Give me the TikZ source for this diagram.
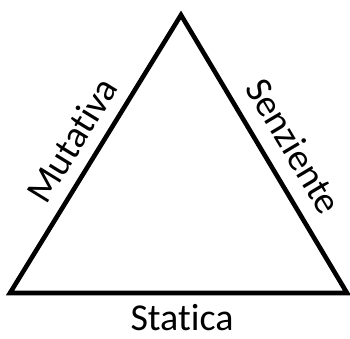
\documentclass[tikz,border=0pt]{standalone}
\usepackage{fontspec}
\setmainfont{Carlito}[RawFeature={-liga;-clig;-dlig}]
\usetikzlibrary{positioning}

\begin{document}
\begin{tikzpicture}[x=1pt, y=-1pt,
  side/.style={line width=4.6pt, line join=miter},
  slab/.style={font=\fontsize{38}{42}\selectfont, inner sep=0pt}]
\useasboundingbox (0,0) rectangle (350,338);
\coordinate (top) at (181,15);
\coordinate (bl) at (10,293);
\coordinate (br) at (347,293);
\draw[side] (bl) -- (top) -- (br) -- cycle;
\node[slab, rotate=58.4] (mut) at (72,140) {Mutativa};
\node[slab, rotate=-59.2] (sen) at (294,146) {Senziente};
\node[slab] (sta) at (182,318) {Statica};
\end{tikzpicture}
\end{document}
